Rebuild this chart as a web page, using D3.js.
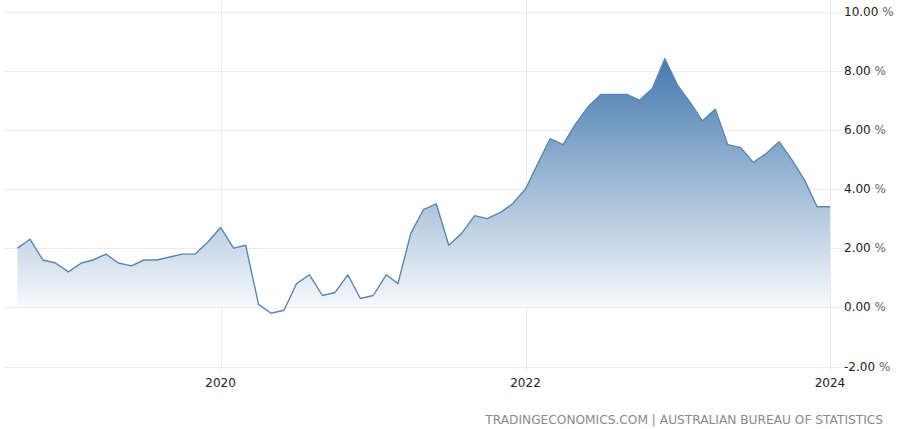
<!DOCTYPE html>
<html>
<head>
<meta charset="utf-8">
<script src="https://cdn.jsdelivr.net/npm/d3@7"></script>
<style>
  html, body { margin: 0; padding: 0; background: #ffffff; }
  #chart { width: 900px; height: 429px; }
  text { font-family: 'DejaVu Sans', sans-serif; }
</style>
</head>
<body>
<div id="chart"></div>
<script>
// monthly inflation rate, Sep 2018 .. Jan 2024
const startMonth = [2018, 8];
const rates = [
  2.0, 2.3, 1.6, 1.5,                                          // 2018 Sep-Dec
  1.2, 1.5, 1.6, 1.8, 1.5, 1.4, 1.6, 1.6, 1.7, 1.8, 1.8, 2.2,  // 2019
  2.7, 2.0, 2.1, 0.1, -0.2, -0.1, 0.8, 1.1, 0.4, 0.5, 1.1, 0.3, // 2020
  0.4, 1.1, 0.8, 2.5, 3.3, 3.5, 2.1, 2.5, 3.1, 3.0, 3.2, 3.5,  // 2021
  4.0, 4.9, 5.7, 5.5, 6.2, 6.8, 7.2, 7.2, 7.2, 7.0, 7.4, 8.4,  // 2022
  7.5, 6.9, 6.3, 6.7, 5.5, 5.4, 4.9, 5.2, 5.6, 5.0, 4.3, 3.4,  // 2023
  3.4                                                          // 2024 Jan
];
const yTicks = [-2, 0, 2, 4, 6, 8, 10];
const xTickYears = [2020, 2022, 2024];
const sourceText = 'TRADINGECONOMICS.COM | AUSTRALIAN BUREAU OF STATISTICS';

(($d3) => {
  const options = {
    width: 900,
    height: 429,
    plot: { left: 17.5, right: 830, top: 11.5, bottom: 366.5 },
    gridLeft: 4,
    gridRight: 842,
    lineColor: '#5b86b0',
    gridColor: '#ebebeb',
  };

  const data = rates.map(function (v, i) {
    return { date: new Date(startMonth[0], startMonth[1] + i, 1), value: v };
  });

  const x = $d3
    .scaleTime()
    .domain($d3.extent(data, (d) => d.date))
    .range([options.plot.left, options.plot.right]);
  const y = $d3
    .scaleLinear()
    .domain([-2, 10])
    .range([options.plot.bottom, options.plot.top]);

  // plain hyphen for negatives, like the source
  const fmt = (d) => (d < 0 ? '-' : '') + Math.abs(d).toFixed(2) + ' ';

  const svg = $d3
    .select('#chart')
    .append('svg')
    .attr('width', options.width)
    .attr('height', options.height);

  const grad = svg
    .append('defs')
    .append('linearGradient')
    .attr('id', 'fillGrad')
    .attr('gradientUnits', 'userSpaceOnUse')
    .attr('x1', 0)
    .attr('x2', 0)
    .attr('y1', y($d3.max(rates)))
    .attr('y2', y(0));
  grad.append('stop').attr('offset', '0%').attr('stop-color', '#447aae');
  grad.append('stop').attr('offset', '100%').attr('stop-color', '#f7f9fc');

  // horizontal grid
  svg
    .append('g')
    .selectAll('line')
    .data(yTicks)
    .enter()
    .append('line')
    .attr('x1', options.gridLeft)
    .attr('x2', options.gridRight)
    .attr('y1', (d) => Math.round(y(d)) + 0.5)
    .attr('y2', (d) => Math.round(y(d)) + 0.5)
    .attr('stroke', options.gridColor)
    .attr('stroke-width', 1);

  // vertical grid
  svg
    .append('g')
    .selectAll('line')
    .data(xTickYears)
    .enter()
    .append('line')
    .attr('x1', (d) => Math.round(x(new Date(d, 0, 1))) + 0.5)
    .attr('x2', (d) => Math.round(x(new Date(d, 0, 1))) + 0.5)
    .attr('y1', 0)
    .attr('y2', 371)
    .attr('stroke', options.gridColor)
    .attr('stroke-width', 1);

  const area = $d3
    .area()
    .x((d) => x(d.date))
    .y0(y(0))
    .y1((d) => y(d.value));
  const line = $d3
    .line()
    .x((d) => x(d.date))
    .y((d) => y(d.value));

  svg.append('path').datum(data).attr('d', area).attr('fill', 'url(#fillGrad)');

  svg
    .append('path')
    .datum(data)
    .attr('d', line)
    .attr('fill', 'none')
    .attr('stroke', options.lineColor)
    .attr('stroke-width', 1.4)
    .attr('stroke-linejoin', 'round');

  // y labels
  const yLab = svg
    .append('g')
    .selectAll('text')
    .data(yTicks)
    .enter()
    .append('text')
    .attr('x', 844)
    .attr('y', (d) => y(d) + 4)
    .attr('font-size', 12)
    .attr('fill', '#222');
  yLab.append('tspan').text(fmt);
  yLab.append('tspan').attr('fill', '#666').text('%');

  // x labels
  svg
    .append('g')
    .selectAll('text')
    .data(xTickYears)
    .enter()
    .append('text')
    .attr('x', (d) => x(new Date(d, 0, 1)))
    .attr('y', 387)
    .attr('text-anchor', 'middle')
    .attr('font-size', 12)
    .attr('fill', '#222')
    .text((d) => d);

  svg
    .append('text')
    .attr('x', 883)
    .attr('y', 424)
    .attr('text-anchor', 'end')
    .attr('font-size', 12.2)
    .attr('fill', '#8a8a8a')
    .text(sourceText);
})(d3);
</script>
</body>
</html>
